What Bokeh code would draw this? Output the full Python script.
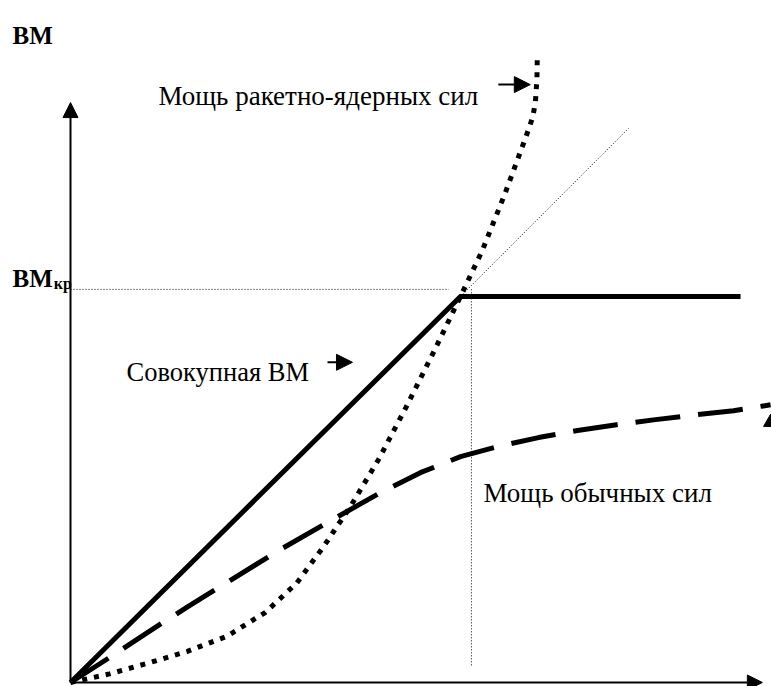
from bokeh.plotting import figure
from bokeh.models import Range1d, Arrow, NormalHead, Label
from bokeh.embed import file_html
from bokeh.resources import INLINE

# ---- data (abstract units) ----
# total military power (solid): grows linearly up to critical level, then flat
total_x = [0.0, 10.0, 17.18]
total_y = [0.0, 9.9, 9.9]

# thin dotted continuation of the linear growth
ext_x = [10.0, 14.31]
ext_y = [9.9, 14.21]

# critical level and its abscissa
bm_kr = 10.08
x_kr = 10.28
guide_h_end = 9.7
guide_v_bottom = 0.44

# nuclear-missile forces power (thick dotted)
nuc_x = [0.0, 1.0, 2.0, 3.0, 4.0, 5.0, 5.8, 6.5, 7.2, 7.9, 8.6, 9.3, 10.0,
         10.56, 11.15, 11.67, 11.85, 11.92, 11.96, 11.97]
nuc_y = [0.0, 0.22, 0.50, 0.80, 1.18, 1.80, 2.55, 3.50, 4.55, 5.72, 7.05, 8.45, 9.90,
         11.08, 12.56, 13.97, 14.49, 14.87, 15.49, 16.13]

# conventional forces power (dashed)
conv_x = [0.0, 1.0, 2.0, 3.0, 4.1, 5.38, 6.67, 7.95, 8.97, 10.0,
          11.0, 12.0, 13.0, 14.0, 15.0, 16.0, 17.0, 17.95]
conv_y = [0.0, 0.64, 1.30, 1.94, 2.62, 3.41, 4.15, 4.87, 5.38, 5.79,
          6.06, 6.28, 6.46, 6.61, 6.74, 6.86, 6.97, 7.12]

# axes extents
x_axis_end = 17.74
y_axis_end = 14.87

labels_text = {
    "y_axis": "ВМ",
    "kr_main": "ВМ",
    "kr_sub": "кр",
    "nuclear": "Мощь ракетно-ядерных сил",
    "total": "Совокупная ВМ",
    "conv": "Мощь обычных сил",
}

FONT = "Liberation Serif"

p = figure(width=771, height=686, output_backend="svg", toolbar_location=None,
           x_axis_location=None, y_axis_location=None, min_border=0,
           x_range=Range1d(-1.795, 17.974), y_range=Range1d(-0.1026, 17.487))
p.grid.visible = False
p.outline_line_color = None
p.background_fill_color = "white"
p.border_fill_color = "white"

# guides (thin dotted)
p.line([0, guide_h_end], [bm_kr, bm_kr], line_color="black", line_width=1, line_dash="1 2")
p.line([x_kr, x_kr], [guide_v_bottom, bm_kr], line_color="black", line_width=1, line_dash="1 2")
p.line(ext_x, ext_y, line_color="black", line_width=1, line_dash="1 2")

# curves
p.line(conv_x, conv_y, line_color="black", line_width=5, line_dash="45 18", line_cap="butt")
p.line(nuc_x, nuc_y, line_color="black", line_width=5, line_dash="5 7", line_cap="butt")
p.line(total_x, total_y, line_color="black", line_width=5, line_join="miter")

# small clipped marker at right edge
p.scatter([17.95], [6.67], marker="triangle", size=14, color="black")

# axes with arrows
p.add_layout(Arrow(end=NormalHead(size=15, fill_color="black", line_color="black"),
                   x_start=0, y_start=0, x_end=x_axis_end, y_end=0,
                   line_color="black", line_width=2))
p.add_layout(Arrow(end=NormalHead(size=15, fill_color="black", line_color="black"),
                   x_start=0, y_start=0, x_end=0, y_end=y_axis_end,
                   line_color="black", line_width=2))

# label arrows
p.add_layout(Arrow(end=NormalHead(size=16, fill_color="black", line_color="black"),
                   x_start=10.97, y_start=15.33, x_end=11.79, y_end=15.33,
                   line_color="black", line_width=2))
p.add_layout(Arrow(end=NormalHead(size=16, fill_color="black", line_color="black"),
                   x_start=6.59, y_start=8.21, x_end=7.23, y_end=8.21,
                   line_color="black", line_width=2))

# texts
def add_label(x, y, text, size, bold=False):
    p.add_layout(Label(x=x, y=y, text=text, text_font=FONT, text_font_size=size,
                       text_font_style="bold" if bold else "normal",
                       text_color="black", text_baseline="alphabetic", text_align="left"))

add_label(-1.487, 16.59, labels_text["y_axis"], "25px", bold=True)
add_label(-1.487, 10.36, labels_text["kr_main"], "25px", bold=True)
add_label(-0.43, 10.23, labels_text["kr_sub"], "16px", bold=True)
add_label(2.256, 15.05, labels_text["nuclear"], "27px")
add_label(1.436, 7.95, labels_text["total"], "26.5px")
add_label(10.59, 4.85, labels_text["conv"], "27px")

open("out.html", "w").write(file_html(p, INLINE))
